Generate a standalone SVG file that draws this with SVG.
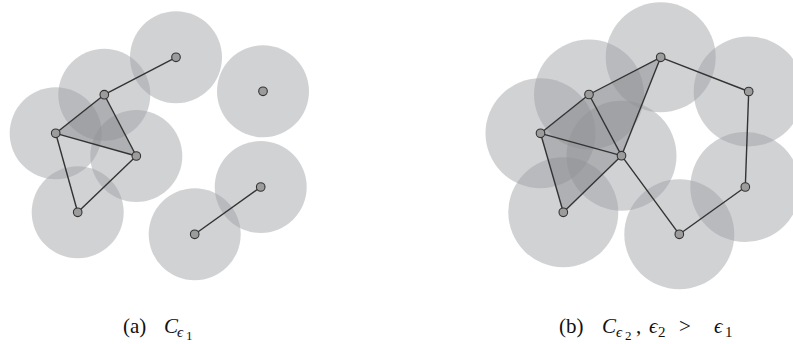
<svg xmlns="http://www.w3.org/2000/svg" width="793" height="344" viewBox="0 0 793 344">
<defs>
<style>
.ball{fill:#9fa1a5;fill-opacity:0.48}
.tri{fill:#7f8185;fill-opacity:0.42;stroke:none}
.edge{stroke:#333;stroke-width:1.4;fill:none}
.pt{fill:#9c9c9c;stroke:#333;stroke-width:1.1}
.lbl{font-family:"Liberation Serif","DejaVu Serif",serif;fill:#111}
.it{font-style:italic}
</style>
</defs>
<rect width="793" height="344" fill="#fff"/>

<g id="panel-a-balls">
<circle class="ball" cx="176" cy="57.3" r="46"/>
<circle class="ball" cx="104.3" cy="94.7" r="46"/>
<circle class="ball" cx="263" cy="91.3" r="46"/>
<circle class="ball" cx="55.7" cy="133.3" r="46"/>
<circle class="ball" cx="136.3" cy="156" r="46"/>
<circle class="ball" cx="77.7" cy="212.3" r="46"/>
<circle class="ball" cx="260.7" cy="187" r="46"/>
<circle class="ball" cx="194.7" cy="234.3" r="46"/>
</g>
<g id="panel-b-balls">
<circle class="ball" cx="660.7" cy="57.3" r="55"/>
<circle class="ball" cx="589" cy="94.5" r="55"/>
<circle class="ball" cx="748.7" cy="91.5" r="55"/>
<circle class="ball" cx="540.5" cy="133.3" r="55"/>
<circle class="ball" cx="621.5" cy="155.7" r="55"/>
<circle class="ball" cx="563.3" cy="212.3" r="55"/>
<circle class="ball" cx="745.3" cy="187" r="55"/>
<circle class="ball" cx="679.3" cy="234.3" r="55"/>
</g>
<g id="simplices">
<polygon class="tri" points="104.3,94.7 55.7,133.3 136.3,156"/>
<polygon class="tri" points="589,94.5 540.5,133.3 621.5,155.7"/>
<polygon class="tri" points="589,94.5 660.7,57.3 621.5,155.7"/>
<polygon class="tri" points="540.5,133.3 621.5,155.7 563.3,212.3"/>
</g>
<g id="connectors">
<line class="edge" x1="176" y1="57.3" x2="104.3" y2="94.7"/>
<line class="edge" x1="104.3" y1="94.7" x2="55.7" y2="133.3"/>
<line class="edge" x1="104.3" y1="94.7" x2="136.3" y2="156"/>
<line class="edge" x1="55.7" y1="133.3" x2="136.3" y2="156"/>
<line class="edge" x1="55.7" y1="133.3" x2="77.7" y2="212.3"/>
<line class="edge" x1="77.7" y1="212.3" x2="136.3" y2="156"/>
<line class="edge" x1="260.7" y1="187" x2="194.7" y2="234.3"/>

<line class="edge" x1="660.7" y1="57.3" x2="589" y2="94.5"/>
<line class="edge" x1="589" y1="94.5" x2="540.5" y2="133.3"/>
<line class="edge" x1="589" y1="94.5" x2="621.5" y2="155.7"/>
<line class="edge" x1="660.7" y1="57.3" x2="621.5" y2="155.7"/>
<line class="edge" x1="540.5" y1="133.3" x2="621.5" y2="155.7"/>
<line class="edge" x1="540.5" y1="133.3" x2="563.3" y2="212.3"/>
<line class="edge" x1="563.3" y1="212.3" x2="621.5" y2="155.7"/>
<line class="edge" x1="660.7" y1="57.3" x2="748.7" y2="91.5"/>
<line class="edge" x1="748.7" y1="91.5" x2="745.3" y2="187"/>
<line class="edge" x1="745.3" y1="187" x2="679.3" y2="234.3"/>
<line class="edge" x1="679.3" y1="234.3" x2="621.5" y2="155.7"/>
</g>
<g id="a-p1"><circle class="pt" cx="176" cy="57.3" r="4.3"/></g>
<g id="a-p2"><circle class="pt" cx="104.3" cy="94.7" r="4.3"/></g>
<g id="a-p3"><circle class="pt" cx="263" cy="91.3" r="4.3"/></g>
<g id="a-p4"><circle class="pt" cx="55.7" cy="133.3" r="4.3"/></g>
<g id="a-p5"><circle class="pt" cx="136.3" cy="156" r="4.3"/></g>
<g id="a-p6"><circle class="pt" cx="77.7" cy="212.3" r="4.3"/></g>
<g id="a-p7"><circle class="pt" cx="260.7" cy="187" r="4.3"/></g>
<g id="a-p8"><circle class="pt" cx="194.7" cy="234.3" r="4.3"/></g>
<g id="b-p1"><circle class="pt" cx="660.7" cy="57.3" r="4.3"/></g>
<g id="b-p2"><circle class="pt" cx="589" cy="94.5" r="4.3"/></g>
<g id="b-p3"><circle class="pt" cx="748.7" cy="91.5" r="4.3"/></g>
<g id="b-p4"><circle class="pt" cx="540.5" cy="133.3" r="4.3"/></g>
<g id="b-p5"><circle class="pt" cx="621.5" cy="155.7" r="4.3"/></g>
<g id="b-p6"><circle class="pt" cx="563.3" cy="212.3" r="4.3"/></g>
<g id="b-p7"><circle class="pt" cx="745.3" cy="187" r="4.3"/></g>
<g id="b-p8"><circle class="pt" cx="679.3" cy="234.3" r="4.3"/></g>

<g id="caption-a" class="lbl">
<text x="123" y="333" font-size="21">(a)</text>
<text x="164" y="333" font-size="21" class="it">C</text>
<text x="177" y="336.5" font-size="15" class="it">ϵ</text>
<text x="186" y="339.5" font-size="13">1</text>
</g>
<g id="caption-b" class="lbl">
<text x="559" y="333" font-size="21">(b)</text>
<text x="602" y="333" font-size="21" class="it">C</text>
<text x="616" y="336.5" font-size="15" class="it">ϵ</text>
<text x="625" y="339.5" font-size="13">2</text>
<text x="636" y="333" font-size="21">,</text>
<text x="649" y="333" font-size="21" class="it">ϵ</text>
<text x="658" y="337" font-size="15">2</text>
<text x="679" y="333" font-size="21">&gt;</text>
<text x="714" y="333" font-size="21" class="it">ϵ</text>
<text x="725" y="337" font-size="15">1</text>
</g>
</svg>
